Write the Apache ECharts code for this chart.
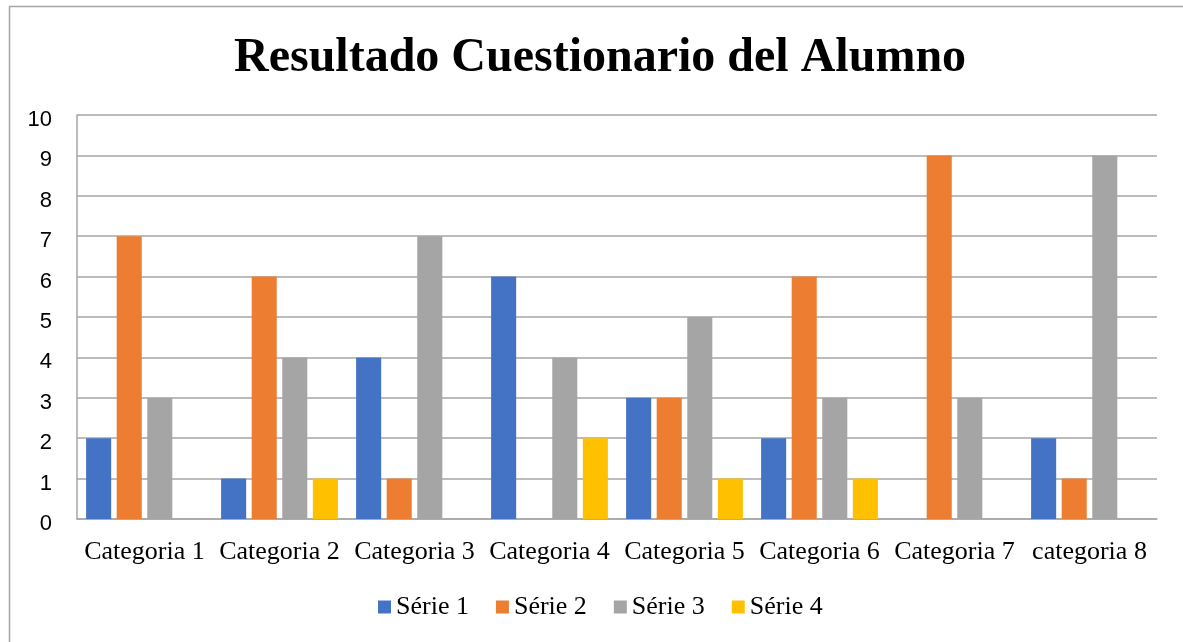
<!DOCTYPE html>
<html>
<head>
<meta charset="utf-8">
<script src="https://cdn.jsdelivr.net/npm/echarts@6/dist/echarts.min.js"></script>
<style>
html,body{margin:0;padding:0;background:#fff;}
#chart{width:1183px;height:642px;}
</style>
</head>
<body>
<div id="chart"></div>
<script>
const titleText = 'Resultado Cuestionario del Alumno';
const categories = ['Categoria 1','Categoria 2','Categoria 3','Categoria 4','Categoria 5','Categoria 6','Categoria 7','categoria 8'];
const seriesNames = ['Série 1','Série 2','Série 3','Série 4'];
const serie1 = [2,1,4,6,3,2,0,2];
const serie2 = [7,6,1,0,3,6,9,1];
const serie3 = [3,4,7,4,5,3,3,9];
const serie4 = [0,1,0,2,1,1,0,0];
const colors = ['#4472C4','#ED7D31','#A5A5A5','#FFC000'];

const seriesData = [serie1, serie2, serie3, serie4];
const chart = echarts.init(document.getElementById('chart'));
chart.setOption({
  animation: false,
  color: colors,
  title: {
    text: titleText,
    left: 234,
    top: 35,
    padding: 0,
    textStyle: {fontFamily: '"Liberation Serif","Times New Roman",serif', fontWeight: 'bold', fontSize: 48, color: '#000'}
  },
  graphic: [{
    type: 'rect', left: 7, top: 4, shape: {width: 1200, height: 700},
    style: {fill: 'none', stroke: '#a6a6a6', lineWidth: 1.5}, silent: true
  }],
  legend: {
    bottom: 17,
    left: 373,
    itemWidth: 13, itemHeight: 13, itemGap: 27,
    icon: 'rect',
    textStyle: {fontFamily: '"Liberation Serif","Times New Roman",serif', fontSize: 26, color: '#000'},
    data: seriesNames
  },
  grid: {left: 77, right: 26, top: 115, bottom: 123, containLabel: false},
  xAxis: {
    type: 'category',
    data: categories,
    axisLine: {lineStyle: {color: '#a6a6a6', width: 1.5}},
    axisTick: {show: false},
    axisLabel: {fontFamily: '"Liberation Serif","Times New Roman",serif', fontSize: 26, color: '#000', margin: 20, interval: 0}
  },
  yAxis: {
    type: 'value', min: 0, max: 10, interval: 1,
    axisLine: {show: true, lineStyle: {color: '#a6a6a6', width: 1.5}},
    axisTick: {show: false},
    splitLine: {lineStyle: {color: '#a6a6a6', width: 1.5}},
    axisLabel: {fontFamily: '"Liberation Sans",Arial,sans-serif', fontSize: 22, color: '#000', margin: 25, verticalAlign: 'top', lineHeight: 10}
  },
  series: seriesNames.map((n, i) => ({
    name: n, type: 'bar', data: seriesData[i],
    barGap: '22%', barCategoryGap: '13.5%',
    itemStyle: {color: colors[i]}
  }))
});
</script>
</body>
</html>
